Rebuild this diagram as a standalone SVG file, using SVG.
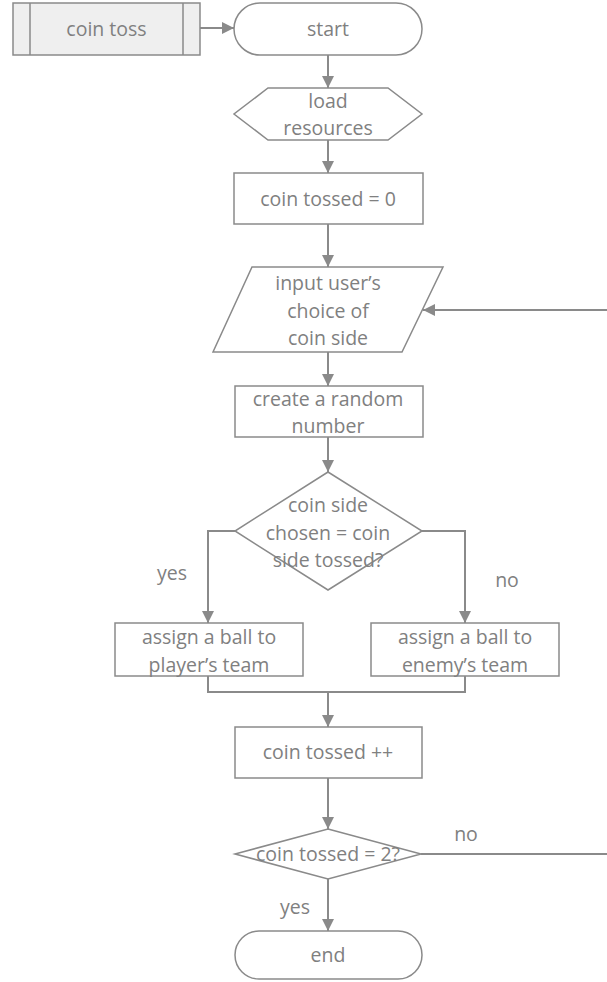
<svg xmlns="http://www.w3.org/2000/svg" width="607" height="982" viewBox="0 0 607 982">
<defs>
<marker id="ah" markerUnits="userSpaceOnUse" markerWidth="12" markerHeight="12" viewBox="0 0 12 12" refX="12" refY="6" orient="auto">
<path d="M0,0 L12,6 L0,12 Z" fill="#8a8a8a"/>
</marker>
</defs>
<style>
.s{fill:#fff;stroke:#8a8a8a;stroke-width:1.5}
.c{fill:none;stroke:#8a8a8a;stroke-width:2}
.t{font-family:"Open Sans","Liberation Sans",sans-serif;font-size:19.5px;fill:#808080;text-anchor:middle}
.l{font-family:"Open Sans","Liberation Sans",sans-serif;font-size:19.5px;fill:#808080;text-anchor:middle}
</style>
<rect width="607" height="982" fill="#fff"/>
<g id="connectors">
<path class="c" d="M200,28 H234" marker-end="url(#ah)"/>
<path class="c" d="M328,55 V88" marker-end="url(#ah)"/>
<path class="c" d="M328,140 V173" marker-end="url(#ah)"/>
<path class="c" d="M328,224 V267" marker-end="url(#ah)"/>
<path class="c" d="M328,352 V386" marker-end="url(#ah)"/>
<path class="c" d="M328,437 V472" marker-end="url(#ah)"/>
<path class="c" d="M235,531 H208 V623" marker-end="url(#ah)"/>
<path class="c" d="M422,531 H465 V623" marker-end="url(#ah)"/>
<path class="c" d="M208,676 V692 H465 V676"/>
<path class="c" d="M328,692 V727" marker-end="url(#ah)"/>
<path class="c" d="M328,777 V829" marker-end="url(#ah)"/>
<path class="c" d="M328,879 V931" marker-end="url(#ah)"/>
<path class="c" d="M421,854 H607"/>
<path class="c" d="M607,310 H423" marker-end="url(#ah)"/>
<text class="l" x="172" y="580">yes</text>
<text class="l" x="507" y="587">no</text>
<text class="l" x="466" y="841">no</text>
<text class="l" x="295" y="914">yes</text>
</g>
<g id="coin-toss">
<rect x="13" y="3" width="187" height="52" fill="#efefef" stroke="#8a8a8a" stroke-width="1.5"/>
<path d="M30,3 V55 M183,3 V55" stroke="#8a8a8a" stroke-width="1.5"/>
<text class="t" x="106.5" y="36">coin toss</text>
</g>
<g id="start">
<rect class="s" x="234" y="3" width="188" height="52" rx="26"/>
<text class="t" x="328" y="36">start</text>
</g>
<g id="load">
<path class="s" d="M268,88 H388 L422,114 L388,140 H268 L234,114 Z"/>
<text class="t" x="328" y="108">load</text>
<text class="t" x="328" y="135">resources</text>
</g>
<g id="init">
<rect class="s" x="234" y="173" width="189" height="51"/>
<text class="t" x="328" y="206">coin tossed = 0</text>
</g>
<g id="input">
<path class="s" d="M252,267 H443 L402,352 H213 Z"/>
<text class="t" x="328" y="290">input user’s</text>
<text class="t" x="328" y="318">choice of</text>
<text class="t" x="328" y="345">coin side</text>
</g>
<g id="random">
<rect class="s" x="235" y="386" width="188" height="51"/>
<text class="t" x="328" y="406">create a random</text>
<text class="t" x="328" y="433">number</text>
</g>
<g id="decision1">
<path class="s" d="M328,472 L422,531 L328,590 L235,531 Z"/>
<text class="t" x="328" y="512">coin side</text>
<text class="t" x="328" y="540">chosen = coin</text>
<text class="t" x="328" y="567">side tossed?</text>
</g>
<g id="player">
<rect class="s" x="115" y="623" width="188" height="53"/>
<text class="t" x="209" y="644">assign a ball to</text>
<text class="t" x="209" y="672">player’s team</text>
</g>
<g id="enemy">
<rect class="s" x="371" y="623" width="188" height="53"/>
<text class="t" x="465" y="644">assign a ball to</text>
<text class="t" x="465" y="672">enemy’s team</text>
</g>
<g id="increment">
<rect class="s" x="235" y="727" width="187" height="51"/>
<text class="t" x="328" y="759">coin tossed ++</text>
</g>
<g id="decision2">
<path class="s" d="M328,829 L421,854 L328,879 L235,854 Z"/>
<text class="t" x="328" y="861">coin tossed = 2?</text>
</g>
<g id="end">
<rect class="s" x="235" y="931" width="187" height="48" rx="24"/>
<text class="t" x="328" y="962">end</text>
</g>
</svg>
